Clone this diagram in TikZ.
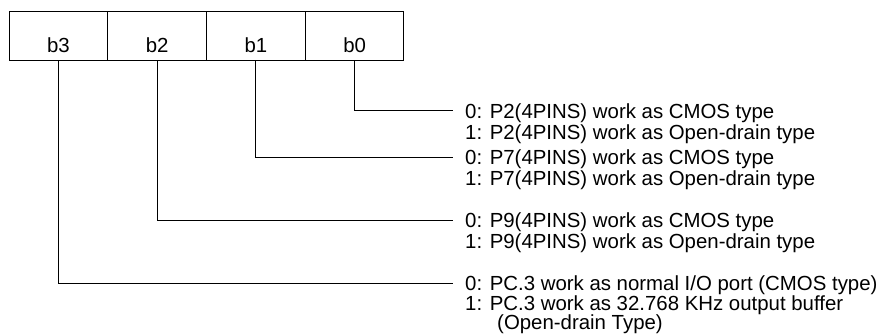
\documentclass[tikz,border=0pt]{standalone}
\usepackage{fontspec}
\setmainfont{Liberation Sans}
\begin{document}
\begin{tikzpicture}[x=1pt,y=-1pt]
\tikzstyle{bitcell}=[draw,line width=1pt,anchor=base,minimum width=98.75pt,inner xsep=0pt,inner ysep=0pt,text height=41pt,text depth=8pt,font={\fontsize{20.4pt}{24pt}\selectfont}]
\tikzstyle{desc}=[anchor=base west,inner xsep=12pt,inner ysep=0pt,text height=14.6pt,text depth=0pt,font={\fontsize{20.4pt}{24pt}\selectfont}]
\tikzstyle{wire}=[line width=1pt]
\useasboundingbox (0,0) rectangle (877,334);
\node[bitcell] (b3) at (58.4, 53) {b3};
\node[bitcell] (b2) at (157.1, 53) {b2};
\node[bitcell] (b1) at (255.9, 53) {b1};
\node[bitcell] (b0) at (354.6, 53) {b0};
\node[desc] (p2a) at (453, 118.3) {0: P2(4PINS) work as CMOS type};
\node[desc] (p2b) at (453, 139.3) {1: P2(4PINS) work as Open-drain type};
\node[desc] (p7a) at (453, 164.3) {0: P7(4PINS) work as CMOS type};
\node[desc] (p7b) at (453, 185.3) {1: P7(4PINS) work as Open-drain type};
\node[desc] (p9a) at (453, 227.3) {0: P9(4PINS) work as CMOS type};
\node[desc] (p9b) at (453, 248.3) {1: P9(4PINS) work as Open-drain type};
\node[desc] (pca) at (453, 290.5) {0: PC.3 work as normal I/O port (CMOS type)};
\node[desc] (pcb) at (453, 310.5) {1: PC.3 work as 32.768 KHz output buffer};
\node[desc] (pcc) at (485, 329.3) {(Open-drain Type)};
\draw[wire] (b0.south) |- (p2a.west);
\draw[wire] (b1.south) |- (p7a.west);
\draw[wire] (b2.south) |- (p9a.west);
\draw[wire] (b3.south) |- (pca.west);
\end{tikzpicture}
\end{document}
